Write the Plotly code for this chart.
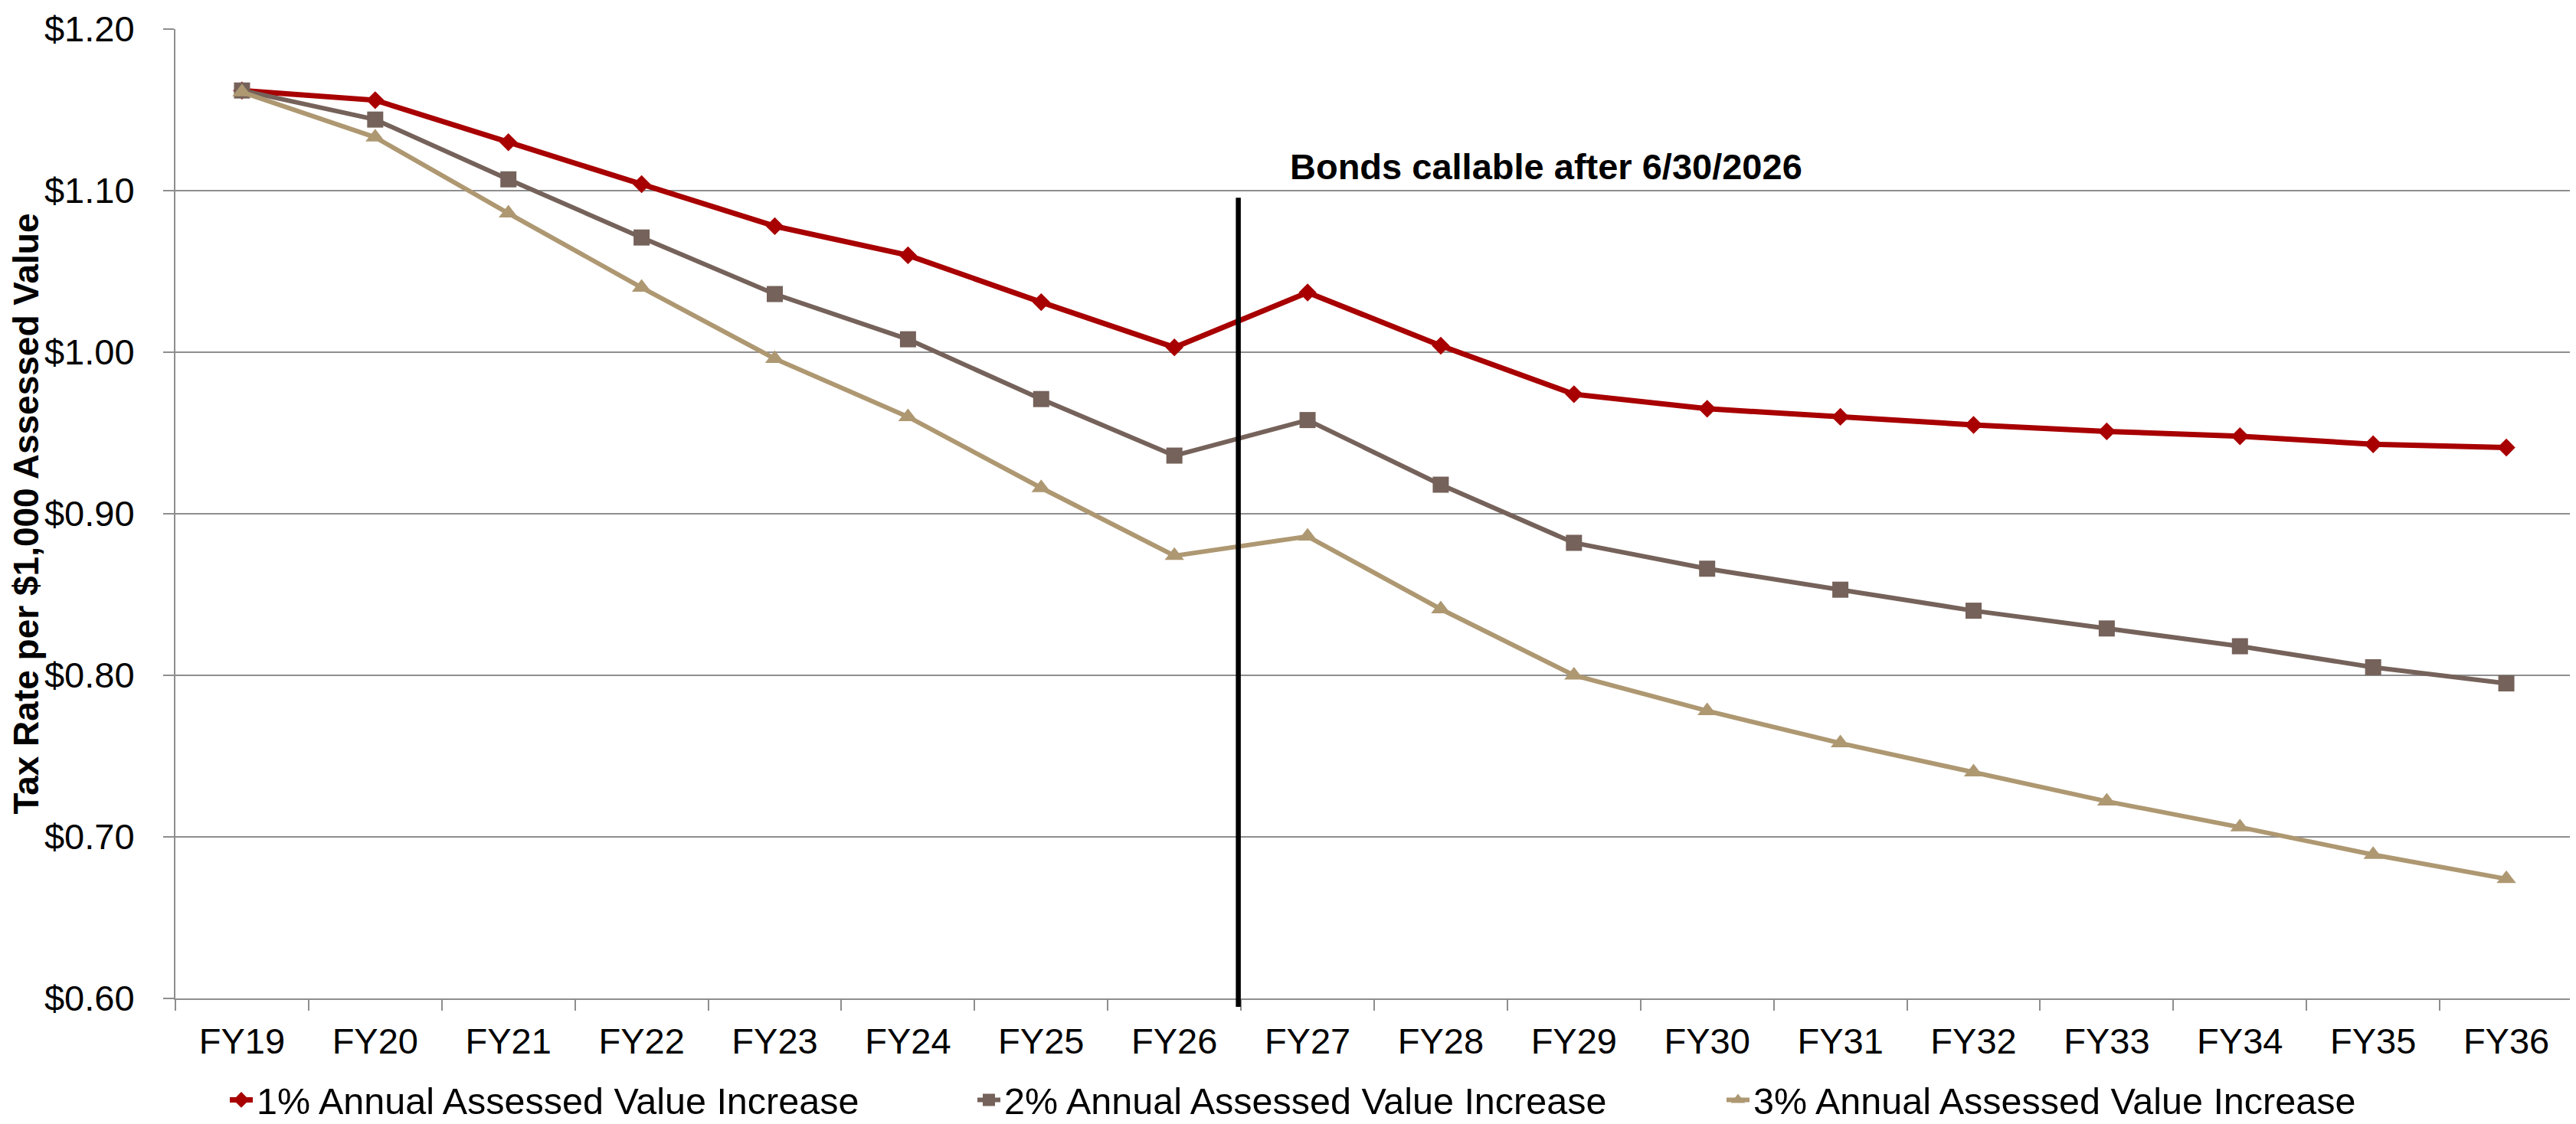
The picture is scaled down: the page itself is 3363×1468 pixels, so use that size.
import plotly.graph_objects as go

categories = ["FY19", "FY20", "FY21", "FY22", "FY23", "FY24", "FY25", "FY26", "FY27",
              "FY28", "FY29", "FY30", "FY31", "FY32", "FY33", "FY34", "FY35", "FY36"]

rate_1pct = [1.162, 1.156, 1.130, 1.104, 1.078, 1.060, 1.031, 1.003, 1.037,
             1.004, 0.974, 0.965, 0.960, 0.955, 0.951, 0.948, 0.943, 0.941]
rate_2pct = [1.162, 1.144, 1.107, 1.071, 1.036, 1.008, 0.971, 0.936, 0.958,
             0.918, 0.882, 0.866, 0.853, 0.840, 0.829, 0.818, 0.805, 0.795]
rate_3pct = [1.161, 1.133, 1.086, 1.040, 0.996, 0.960, 0.916, 0.874, 0.886,
             0.841, 0.800, 0.778, 0.758, 0.740, 0.722, 0.706, 0.689, 0.674]

series_names = ["1% Annual Assessed Value Increase",
                "2% Annual Assessed Value Increase",
                "3% Annual Assessed Value Increase"]

y_ticks = [0.60, 0.70, 0.80, 0.90, 1.00, 1.10, 1.20]
annotation_text = "Bonds callable after 6/30/2026"
y_title = "Tax Rate per $1,000 Assessed Value"

FONT = "Arial, Liberation Sans, Helvetica, sans-serif"
GRID = "#8E8E8E"

# page has an 8px body margin; size the figure so it fills the window exactly
PAGE_OFF = 8
W, H = 3363 - PAGE_OFF, 1468 - PAGE_OFF
L, R, T, B = 229 - PAGE_OFF, 4, 38 - PAGE_OFF, 164

fig = go.Figure()
styles = [
    dict(color="#A80000", width=7, symbol="diamond", size=18),
    dict(color="#75625A", width=6, symbol="square", size=21),
    dict(color="#AE9872", width=6, symbol="triangle-up", size=22),
]
legend_ids = ["legend", "legend2", "legend3"]
for vals, name, st, lg in zip([rate_1pct, rate_2pct, rate_3pct], series_names, styles, legend_ids):
    fig.add_trace(go.Scatter(
        x=categories, y=vals, name=name, mode="lines+markers",
        line=dict(color=st["color"], width=st["width"]),
        marker=dict(symbol=st["symbol"], size=st["size"], color=st["color"], line=dict(width=0)),
        legend=lg,
    ))

# vertical "callable" divider between FY26 and FY27
call_x = 7.48
plot_h = H - T - B
fig.add_shape(type="line", xref="x", yref="paper", x0=call_x, x1=call_x,
              y0=-11 / plot_h, y1=0.826, line=dict(color="black", width=6.5), layer="above")

fig.add_annotation(x=9.79, y=1.115, xref="x", yref="y", text="<b>" + annotation_text + "</b>",
                   showarrow=False, font=dict(family=FONT, size=47, color="black"),
                   xanchor="center", yanchor="middle")

legend_common = dict(orientation="h", yanchor="middle", xanchor="left", y=-0.105,
                     font=dict(family=FONT, size=48.5, color="black"),
                     bgcolor="rgba(0,0,0,0)", borderwidth=0, itemwidth=30,
                     tracegroupgap=0)
plot_w = W - L - R
legend_text_px = [345, 1321, 2299]   # page x where each legend label starts

fig.update_layout(
    width=W, height=H,
    margin=dict(l=L, r=R, t=T, b=B, pad=0, autoexpand=False),
    paper_bgcolor="white", plot_bgcolor="white",
    font=dict(family=FONT, size=47, color="black"),
    legend=dict(x=(legend_text_px[0] - 50 - 229) / plot_w, **legend_common),
    legend2=dict(x=(legend_text_px[1] - 50 - 229) / plot_w, **legend_common),
    legend3=dict(x=(legend_text_px[2] - 50 - 229) / plot_w, **legend_common),
    xaxis=dict(
        type="category", categoryorder="array", categoryarray=categories,
        range=[-0.5, len(categories) - 0.5], automargin=False,
        showgrid=False, showline=True, linecolor=GRID, linewidth=2,
        ticks="outside", ticklen=14, tickwidth=2, tickcolor=GRID,
        tickson="boundaries", ticklabeloverflow="allow",
        tickfont=dict(family=FONT, size=47, color="black"),
        ticklabelstandoff=14,
    ),
    yaxis=dict(
        range=[0.6, 1.2], tickvals=y_ticks, tickformat="$.2f", automargin=False,
        showgrid=True, gridcolor=GRID, gridwidth=2,
        showline=True, linecolor=GRID, linewidth=2,
        ticks="outside", ticklen=14, tickwidth=2, tickcolor=GRID,
        ticklabeloverflow="allow",
        tickfont=dict(family=FONT, size=47, color="black"),
        ticklabelstandoff=28,
        zeroline=False,
        title=dict(text="<b>" + y_title + "</b>", font=dict(family=FONT, size=46, color="black"),
                   standoff=2),
    ),
    showlegend=True,
)

fig.write_html("out.html")
